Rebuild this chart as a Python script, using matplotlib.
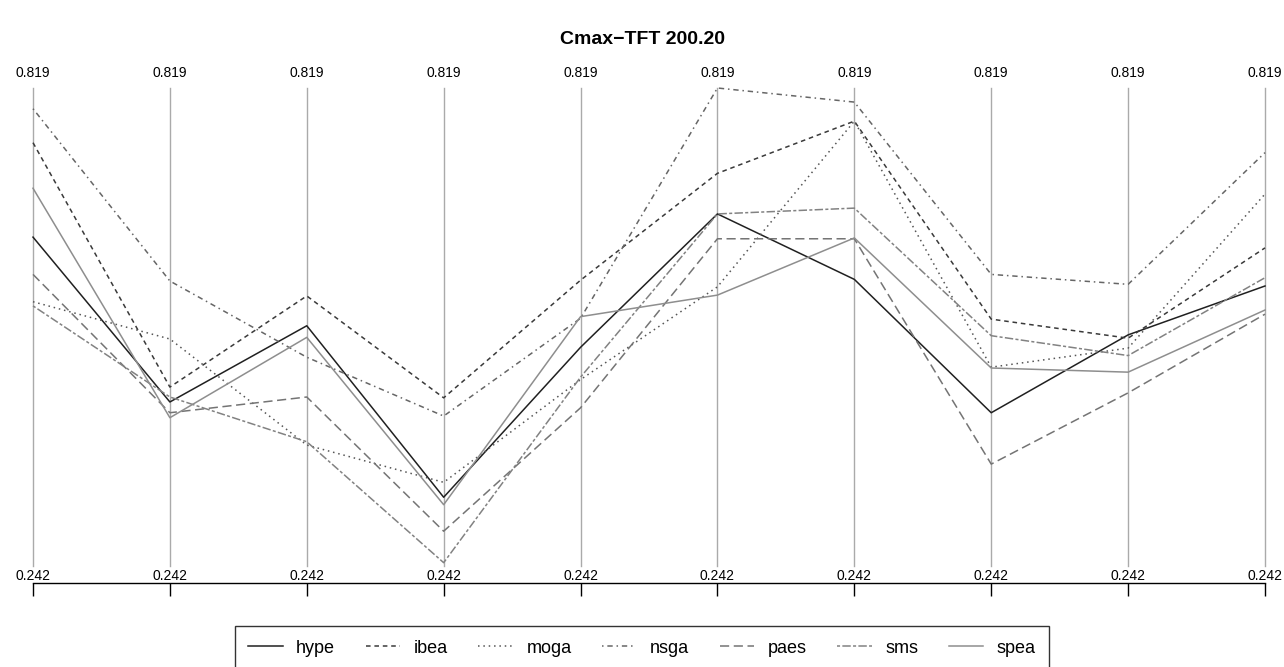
import matplotlib
matplotlib.use("Agg")
import matplotlib.pyplot as plt
import numpy as np

plt.rcParams['font.family'] = ['Liberation Sans', 'DejaVu Sans']

# parallel coordinates, 10 objectives, all share the same range
n_axes = 10
lo, hi = 0.242, 0.819
axis_top_labels = ['0.819'] * n_axes
axis_bottom_labels = ['0.242'] * n_axes

algos = ['hype', 'ibea', 'moga', 'nsga', 'paes', 'sms', 'spea']

hype = [0.639, 0.440, 0.532, 0.325, 0.506, 0.667, 0.588, 0.427, 0.521, 0.580]
ibea = [0.753, 0.458, 0.568, 0.445, 0.587, 0.716, 0.779, 0.540, 0.517, 0.626]
moga = [0.561, 0.516, 0.388, 0.343, 0.467, 0.579, 0.779, 0.482, 0.505, 0.691]
nsga = [0.794, 0.586, 0.494, 0.423, 0.541, 0.819, 0.802, 0.594, 0.582, 0.741]
paes = [0.594, 0.427, 0.446, 0.284, 0.433, 0.637, 0.637, 0.365, 0.451, 0.546]
sms  = [0.556, 0.446, 0.392, 0.246, 0.470, 0.667, 0.674, 0.520, 0.496, 0.590]
spea = [0.698, 0.421, 0.518, 0.316, 0.543, 0.569, 0.638, 0.481, 0.476, 0.551]

series = [hype, ibea, moga, nsga, paes, sms, spea]

colors = ['#202020', '#3a3a3a', '#555555', '#666666', '#747474', '#828282', '#8e8e8e']
dashes = [None, (3, 2.5), (1, 2.5), (1, 2.5, 3.5, 2.5), (6, 3), (2, 1.5, 5.5, 1.5), None]

W, H = 1284, 667
fig = plt.figure(figsize=(W / 100, H / 100), dpi=100)
ax = fig.add_axes([33 / W, 1 - 566 / H, (1265 - 33) / W, (566 - 88) / H])

x = np.arange(n_axes)
ax.set_xlim(0, n_axes - 1)
ax.set_ylim(lo, hi)

# vertical axes
for i in x:
    ax.axvline(i, color='#aaaaaa', lw=1.0, zorder=1, clip_on=False)
    ax.annotate(axis_top_labels[i], (i, hi), xytext=(0, 6), textcoords='offset points',
                ha='center', va='bottom', fontsize=10)
    ax.annotate(axis_bottom_labels[i], (i, lo), xytext=(0, -2.5), textcoords='offset points',
                ha='center', va='top', fontsize=10)

handles = []
for name, vals, c, d in zip(algos, series, colors, dashes):
    ln, = ax.plot(x, vals, color=c, lw=1.1, label=name, zorder=2, clip_on=False)
    if d is not None:
        ln.set_dashes(d)
    handles.append(ln)

for s in ['top', 'left', 'right']:
    ax.spines[s].set_visible(False)
ax.spines['bottom'].set_position(('outward', 12.2))
ax.spines['bottom'].set_linewidth(1.0)
ax.set_xticks(x)
ax.set_xticklabels([])
ax.tick_params(axis='x', direction='out', length=9.4, width=1.0)
ax.set_yticks([])

fig.text(0.5, 1 - 40 / H, 'Cmax\u2212TFT 200.20', ha='center', va='center',
         fontsize=14, fontweight='bold')

leg = fig.legend(handles=handles, loc='upper center', bbox_to_anchor=(0.5, 1 - 626 / H),
                 ncol=7, frameon=True, fancybox=False, edgecolor='black',
                 fontsize=13, handlelength=1.9, columnspacing=1.7, handletextpad=0.75,
                 borderpad=0.75, borderaxespad=0)
leg.get_frame().set_linewidth(1.0)

fig.savefig('out.png', dpi=100)
